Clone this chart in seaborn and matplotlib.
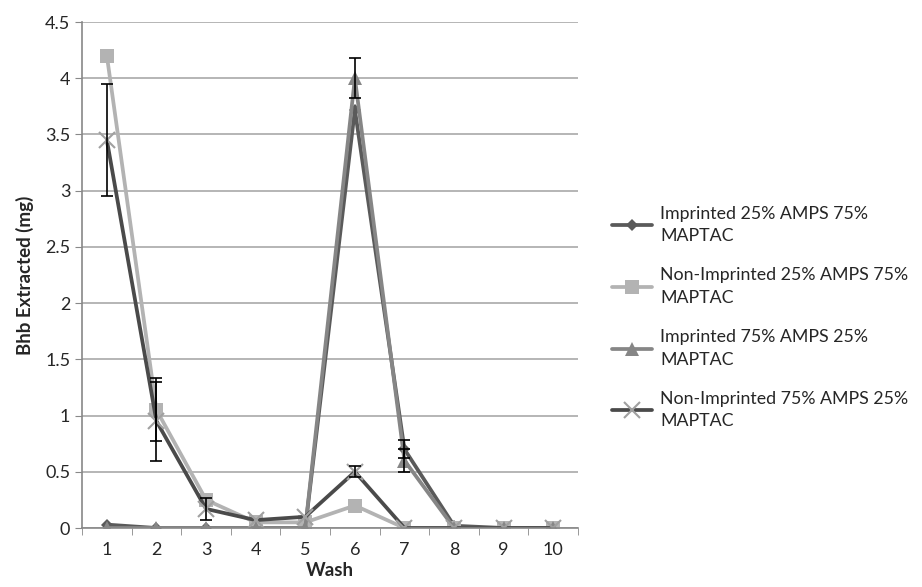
import numpy as np
import pandas as pd
import seaborn as sns
import matplotlib.pyplot as plt

wash = [1, 2, 3, 4, 5, 6, 7, 8, 9, 10]

imp_25 = [0.03, 0.0, 0.0, 0.0, 0.0, 3.72, 0.70, 0.02, 0.0, 0.0]
nonimp_25 = [4.20, 1.05, 0.25, 0.05, 0.05, 0.20, 0.0, 0.0, 0.0, 0.0]
imp_75 = [0.0, 0.0, 0.0, 0.0, 0.0, 4.00, 0.60, 0.0, 0.0, 0.0]
nonimp_75 = [3.45, 0.95, 0.17, 0.07, 0.10, 0.50, 0.0, 0.0, 0.0, 0.0]

# error bars (only where visible)
err_imp_25 = [0, 0, 0, 0, 0, 0, 0.08, 0, 0, 0]
err_nonimp_25 = [0, 0.28, 0, 0, 0, 0, 0, 0, 0, 0]
err_imp_75 = [0, 0, 0, 0, 0, 0.18, 0.10, 0, 0, 0]
err_nonimp_75 = [0.50, 0.35, 0.10, 0, 0, 0.05, 0, 0, 0, 0]

labels = ["Imprinted 25% AMPS 75%\nMAPTAC",
          "Non-Imprinted 25% AMPS 75%\nMAPTAC",
          "Imprinted 75% AMPS 25%\nMAPTAC",
          "Non-Imprinted 75% AMPS 25%\nMAPTAC"]

series = [imp_25, nonimp_25, imp_75, nonimp_75]
errors = [err_imp_25, err_nonimp_25, err_imp_75, err_nonimp_75]
colors = ["#5a5a5a", "#b3b3b3", "#868686", "#4a4a4a"]
markers = ["D", "s", "^", "x"]
msizes = [6, 10, 10, 11]

sns.set_style("white")
plt.rcParams['font.family'] = ['Lato', 'DejaVu Sans']

fig = plt.figure(figsize=(9.22, 5.87), dpi=100)
ax = fig.add_axes([0.089, 0.1005, 0.538, 0.862])

for vals, err, lab, c, m, ms in zip(series, errors, labels, colors, markers, msizes):
    df = pd.DataFrame({'Wash': wash, 'val': vals})
    sns.lineplot(data=df, x='Wash', y='val', ax=ax, color=c, linewidth=2.7,
                 marker=m, markersize=ms, markeredgewidth=1.5 if m == "x" else 0,
                 markeredgecolor="#a0a0a0" if m == "x" else c, label=lab)
    e = np.array(err)
    idx = e > 0
    ax.errorbar(np.array(wash)[idx], np.array(vals)[idx], yerr=e[idx], fmt='none',
                ecolor='black', elinewidth=1.2, capsize=4, capthick=1.2, zorder=5)

ax.set_xlim(0.5, 10.5)
ax.set_ylim(0, 4.5)
ax.set_yticks(np.arange(0, 4.51, 0.5))
ax.set_yticklabels(['0', '0.5', '1', '1.5', '2', '2.5', '3', '3.5', '4', '4.5'])
ax.set_xticks(wash)
ax.set_xticks(np.arange(0.5, 10.6, 1), minor=True)
ax.tick_params(axis='x', which='major', length=0, labelsize=13, pad=10)
ax.tick_params(axis='x', which='minor', length=5, color='#888888', bottom=True)
ax.tick_params(axis='y', length=5, color='#888888', labelsize=13, left=True)
ax.yaxis.grid(True, color='#b0b0b0', linewidth=1.3)
ax.set_axisbelow(True)
for s in ['top', 'right']:
    ax.spines[s].set_visible(False)
for s in ['left', 'bottom']:
    ax.spines[s].set_color('#888888')
    ax.spines[s].set_linewidth(1.2)

ax.set_xlabel('Wash', fontsize=13.5, fontweight='bold', labelpad=3)
ax.set_ylabel('Bhb Extracted (mg)', fontsize=13.5, fontweight='bold', labelpad=8)

leg = ax.legend(loc='center left', bbox_to_anchor=(1.055, 0.416), frameon=False,
                fontsize=12.8, handlelength=2.2, handletextpad=0.5,
                labelspacing=1.3, borderaxespad=0)
for t in leg.get_texts():
    t.set_linespacing(1.5)

fig.savefig('out.png', dpi=100)
